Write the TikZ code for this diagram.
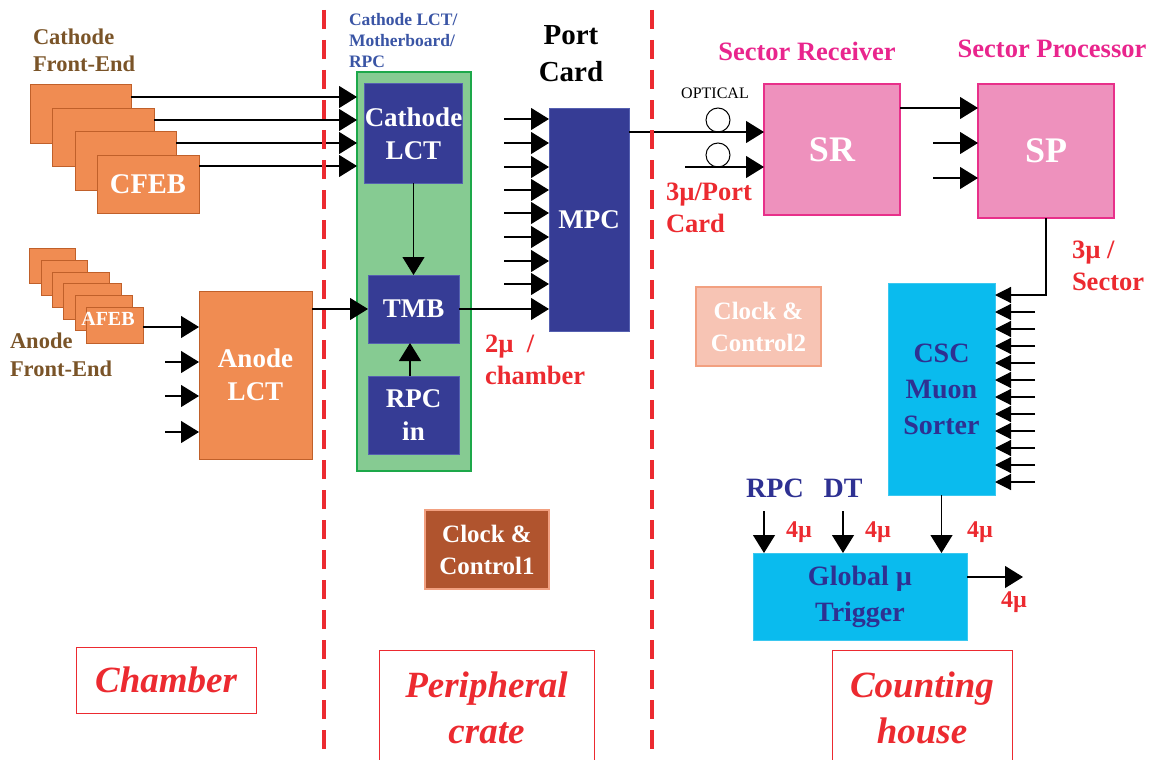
\documentclass[tikz,border=0pt]{standalone}
\usepackage{fontspec}
\setmainfont{Liberation Serif}
\usetikzlibrary{arrows.meta,calc}

\definecolor{feorange}{HTML}{F08C52}
\definecolor{feedge}{HTML}{C0602A}
\definecolor{mbgreen}{HTML}{86CB92}
\definecolor{mbedge}{HTML}{1DA84A}
\definecolor{chipblue}{HTML}{363C95}
\definecolor{chipedge}{HTML}{5560B0}
\definecolor{srpink}{HTML}{EE91BD}
\definecolor{sredge}{HTML}{E8308A}
\definecolor{mscyan}{HTML}{0ABBEE}
\definecolor{msedge}{HTML}{3BC8F0}
\definecolor{cclight}{HTML}{F7C4B4}
\definecolor{ccedge}{HTML}{F2A080}
\definecolor{ccdark}{HTML}{B0542E}
\definecolor{lblred}{HTML}{EC2A30}
\definecolor{lblbrown}{HTML}{7A5428}
\definecolor{lblblue}{HTML}{3A55A5}
\definecolor{lblmag}{HTML}{E9258D}
\definecolor{lblnavy}{HTML}{2E3192}

\newcommand\fsz[2]{\fontsize{#1}{#2}\selectfont}

\begin{document}
\begin{tikzpicture}[x=1pt,y=-1pt,
  every node/.style={inner sep=0pt,outer sep=0pt},
  sz/.style n args={2}{minimum width=#1pt,minimum height=#2pt},
  fe/.style={draw=feedge,fill=feorange,line width=1pt},
  chip/.style={draw=chipedge,fill=chipblue,line width=1pt,text=white,
    font=\bfseries\fsz{27}{33},align=center},
  pinkbox/.style={draw=sredge,fill=srpink,line width=1.2pt,text=white,
    font=\bfseries\fsz{36}{40}},
  cyanbox/.style={draw=msedge,fill=mscyan,line width=1pt,text=lblnavy,
    font=\bfseries\fsz{28}{36},align=center},
  ccbox/.style={draw=ccedge,line width=1.2pt,text=white,
    font=\bfseries\fsz{25}{32},align=center},
  place/.style={draw=lblred,line width=1pt,text=lblred,
    font=\bfseries\itshape\fsz{37}{46},align=center},
  redlbl/.style={text=lblred,font=\bfseries\fsz{26.5}{32},align=left},
  arr/.style={line width=1.2pt,-{Triangle[length=18pt,width=22pt]}},
  arrs/.style={line width=1.2pt,-{Triangle[length=16pt,width=16pt]}},
  border/.style={draw=lblred,line width=4pt,dash pattern=on 19pt off 11pt}]

\useasboundingbox (0,0) rectangle (1154,760);

% ---------- chamber: cathode front-end boards ----------
\node[fe,sz={101}{58}] (cfeb1) at (80.5,114) {};
\node[fe,sz={102}{58}] (cfeb2) at (103,137) {};
\node[fe,sz={101}{59}] (cfeb3) at (125.5,160.5) {};
\node[fe,sz={102}{58},text=white,font=\bfseries\fsz{28.5}{30}] (cfeb4) at (148,184) {CFEB};
\node[anchor=west,align=left,text=lblbrown,font=\bfseries\fsz{22.5}{27}] (cfelbl) at (33,50) {Cathode\\Front-End};

% ---------- chamber: anode front-end boards ----------
\node[fe,sz={46}{35}] (afeb1) at (52,265.5) {};
\node[fe,sz={46}{35}] (afeb2) at (64,277.5) {};
\node[fe,sz={57}{35}] (afeb3) at (80.5,289.5) {};
\node[fe,sz={58}{36}] (afeb4) at (92,301) {};
\node[fe,sz={57}{35}] (afeb5) at (103.5,312.5) {};
\node[fe,sz={57}{36}] (afeb6) at (114.5,325) {};
\node[text=white,font=\bfseries\fsz{20}{22}] (afebtxt) at (108,319) {AFEB};
\node[anchor=west,align=left,text=lblbrown,font=\bfseries\fsz{22.5}{28}] (afelbl) at (10,355) {Anode\\Front-End};

\node[fe,sz={113}{168},text=white,font=\bfseries\fsz{27}{33},align=center] (alct) at (255.5,375) {Anode\\LCT};

% ---------- peripheral crate ----------
\node[draw=mbedge,fill=mbgreen,line width=1.2pt,sz={114}{399}] (grn) at (414,271.5) {};
\node[anchor=west,align=left,text=lblblue,font=\bfseries\fsz{17.5}{21}] (mblbl) at (349,41) {Cathode LCT/\\Motherboard/\\RPC};
\node[chip,sz={91}{99}] (clct) at (413.5,133.5) {Cathode\\LCT};
\node[chip,sz={91}{68}] (tmb) at (413.5,309) {TMB};
\node[chip,sz={91}{78}] (rpcin) at (413.5,415) {RPC\\in};
\node[chip,sz={80}{223}] (mpc) at (589,219.5) {MPC};
\node[align=center,font=\bfseries\fsz{29}{37}] (pclbl) at (571,54) {Port\\Card};
\node[redlbl,anchor=west] (mulbl1) at (485,360) {2\textmu\ \ /\\chamber};
\node[ccbox,fill=ccdark,sz={124}{79}] (cc1) at (487,549.5) {Clock \&\\Control1};

% ---------- counting house ----------
\node[pinkbox,sz={136}{131}] (sr) at (832,149.5) {SR};
\node[pinkbox,sz={136}{134}] (sp) at (1046,151) {SP};
\node[text=lblmag,font=\bfseries\fsz{26.5}{28}] (srlbl) at (807,51) {Sector Receiver};
\node[text=lblmag,font=\bfseries\fsz{26.5}{28}] (splbl) at (1052,49) {Sector Processor};
\node[font=\fsz{16}{18}] (optlbl) at (715,93) {OPTICAL};
\node[circle,draw,line width=1pt,minimum size=24pt] (opt1) at (718,120) {};
\node[circle,draw,line width=1pt,minimum size=24pt] (opt2) at (718,155) {};
\node[redlbl,anchor=west] (mulbl2) at (666,208) {3\textmu/Port\\Card};
\node[redlbl,anchor=west] (mulbl3) at (1072,266) {3\textmu\ /\\Sector};
\node[ccbox,fill=cclight,sz={125}{79}] (cc2) at (758.5,326.5) {Clock \&\\Control2};
\node[cyanbox,sz={107}{212}] (csc) at (941.5,389) {CSC\\Muon\\Sorter};
\node[cyanbox,sz={214}{87}] (gmt) at (860,596.5) {Global \textmu\\Trigger};
\node[text=lblnavy,font=\bfseries\fsz{28}{30}] (rpclbl) at (775,488) {RPC};
\node[text=lblnavy,font=\bfseries\fsz{28}{30}] (dtlbl) at (843,488) {DT};
\node[text=lblred,font=\bfseries\fsz{24}{26}] (mu4a) at (799,532) {4\textmu};
\node[text=lblred,font=\bfseries\fsz{24}{26}] (mu4b) at (878,532) {4\textmu};
\node[text=lblred,font=\bfseries\fsz{24}{26}] (mu4c) at (980,532) {4\textmu};
\node[text=lblred,font=\bfseries\fsz{24}{26}] (mu4d) at (1014,602) {4\textmu};

% ---------- location captions ----------
\node[place,sz={180}{66}] (chamber) at (166,680) {Chamber};
\node[place,sz={215}{116}] (periph) at (486.5,708) {Peripheral\\crate};
\node[place,sz={180}{116}] (counting) at (922,708) {Counting\\house};

% ---------- connections: chamber to peripheral crate ----------
\coordinate (c1) at ([yshift=-12pt]cfeb1.north east);
\coordinate (c2) at ([yshift=-12pt]cfeb2.north east);
\coordinate (c3) at ([yshift=-12pt]cfeb3.north east);
\coordinate (c4) at ([yshift=-11pt]cfeb4.north east);
\foreach \c in {c1,c2,c3,c4} \draw[arr] (\c) -- (\c -| grn.west);

\coordinate (a1) at ([yshift=-20pt]afeb6.north east);
\coordinate (a2) at (165,362);
\coordinate (a3) at (165,396);
\coordinate (a4) at (165,432);
\foreach \c in {a1,a2,a3,a4} \draw[arr] (\c) -- (\c -| alct.west);

\draw[arr] (alct.east |- tmb.west) -- (tmb.west);
\draw[arr] (clct.south) -- (tmb.north);
\draw[arr] ([xshift=-3.5pt]rpcin.north) -- ([xshift=-3.5pt]tmb.south);
\draw[arr] (tmb.east) -- (tmb.east -| mpc.west);
\foreach \yy in {119,143,167,190,213,237,261,284} {
  \coordinate (m\yy) at (504,\yy);
  \draw[arr] (m\yy) -- (m\yy -| mpc.west);
}

% ---------- connections: peripheral crate to counting house ----------
\coordinate (o1) at ([yshift=-24pt]mpc.north east);
\coordinate (o2) at (685,167);
\draw[arr] (o1) -- (o1 -| sr.west);
\draw[arr] (o2) -- (o2 -| sr.west);

\coordinate (s1) at ([yshift=-24pt]sr.north east);
\coordinate (s2) at (933,143);
\coordinate (s3) at (933,178);
\draw[arr] (s1) -- (s1 -| sp.west);
\draw[arr] (s2) -- (s2 -| sp.west);
\draw[arr] (s3) -- (s3 -| sp.west);

\coordinate (k0) at ([yshift=-12pt]csc.north east);
\draw[arrs] (sp.south) |- (k0);
\foreach \i in {1,...,11} {
  \coordinate (k\i) at (1035,295+17*\i);
  \draw[arrs] (k\i) -- (k\i -| csc.east);
}

\coordinate (r1) at (764,511);
\coordinate (r2) at (843,511);
\draw[arr] (r1) -- (r1 |- gmt.north);
\draw[arr] (r2) -- (r2 |- gmt.north);
\draw[arr] (csc.south) -- (csc.south |- gmt.north);
\coordinate (g1) at ([yshift=19.5pt]gmt.east);
\coordinate (g2) at (1023,577);
\draw[arr] (g1) -- (g2);

% ---------- dashed boundaries between locations ----------
\draw[border] (324,10) -- (324,760);
\draw[border] (652,10) -- (652,760);
\end{tikzpicture}
\end{document}
